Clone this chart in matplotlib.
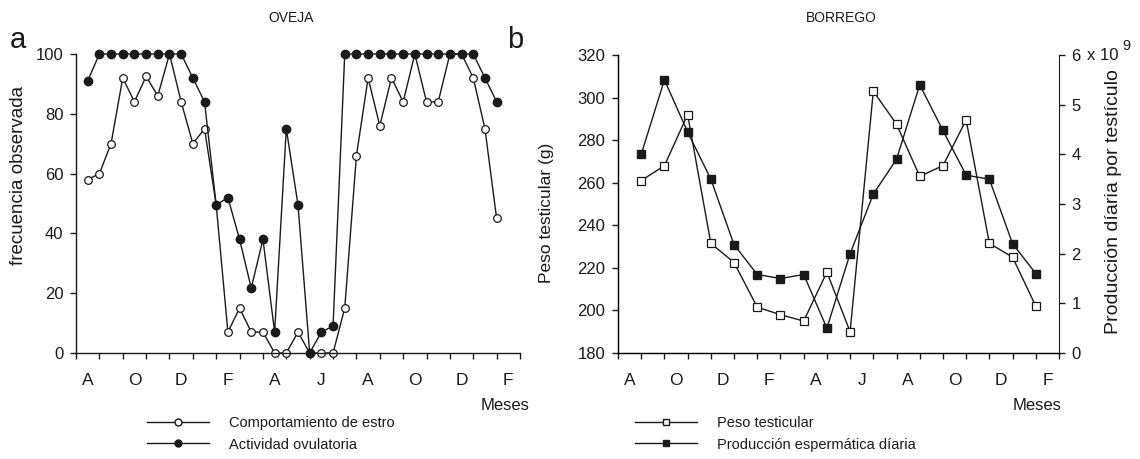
import numpy as np
import matplotlib.pyplot as plt
from matplotlib.lines import Line2D

plt.rcParams['font.family'] = ['Liberation Sans', 'DejaVu Sans']

# --- data (a): OVEJA, sampled every half month
estro = [58, 60, 70, 92, 84, 92.5, 86, 100, 84, 70, 75, 49.5, 7, 15, 7, 7, 0, 0,
         7, 0, 0, 0, 15, 66, 92, 76, 92, 84, 100, 84, 84, 100, 100, 92, 75, 45]
ovul = [91, 100, 100, 100, 100, 100, 100, 100, 100, 92, 84, 49.5, 52, 38, 21.7, 38, 7, 75,
        49.5, 0, 7, 9, 100, 100, 100, 100, 100, 100, 100, 100, 100, 100, 100, 100, 92, 84]

# --- data (b): BORREGO, monthly
peso = [261, 268, 292, 231.5, 222.5, 201.5, 198, 195, 218, 190, 303, 287.5, 263, 268,
        289.5, 231.5, 225, 202]
esperm = [4.0, 5.5, 4.45, 3.5, 2.18, 1.58, 1.5, 1.58, 0.5, 2.0, 3.2, 3.9, 5.4, 4.48,
          3.58, 3.5, 2.2, 1.6]

mes_labels = ['A', 'O', 'D', 'F', 'A', 'J', 'A', 'O', 'D', 'F']

ink = '#1a1a1a'
W, H = 1140, 459

fig = plt.figure(figsize=(11.4, 4.59), dpi=100)
axa = fig.add_axes([76 / W, 1 - 353 / H, (520 - 76) / W, (353 - 54) / H])
axb = fig.add_axes([618 / W, 1 - 353 / H, (1059 - 618) / W, (353 - 55) / H])


def style_axis(ax):
    ax.set_xlim(0, 19)
    ax.set_xticks(range(20))
    ax.set_xticklabels([])
    ax.set_xticks(np.arange(0.5, 19, 2), minor=True)
    ax.set_xticklabels(mes_labels, minor=True)
    ax.tick_params(axis='x', which='minor', length=0, pad=14.5, labelsize=12.5, colors=ink)
    ax.tick_params(axis='x', which='major', length=4, width=1, direction='out', color=ink)
    ax.tick_params(axis='y', length=4, width=1, direction='out', labelsize=12, colors=ink, pad=5)
    for s in ['top', 'right']:
        ax.spines[s].set_visible(False)
    for s in ['left', 'bottom', 'right']:
        ax.spines[s].set_color(ink)
        ax.spines[s].set_linewidth(1.0)


# ---------- panel a
xa = 0.5 + 0.5 * np.arange(len(estro))
axa.plot(xa, estro, '-o', color=ink, lw=1.0, ms=5.5, mfc='white', mec=ink, mew=0.9, clip_on=False)
axa.plot(xa, ovul, '-o', color=ink, lw=1.0, ms=6, mfc=ink, mec=ink, clip_on=False)
axa.set_ylim(0, 100)
axa.set_yticks(range(0, 101, 20))
style_axis(axa)
fig.text(19 / W, 1 - 175 / H, 'frecuencia observada', rotation=90, ha='center', va='center',
         fontsize=13.5, color=ink)
fig.text(530 / W, 1 - 405 / H, 'Meses', ha='right', va='center', fontsize=12, color=ink)

leg_a = [Line2D([], [], color=ink, lw=1.0, marker='o', ms=5, mfc='white', mec=ink),
         Line2D([], [], color=ink, lw=1.0, marker='o', ms=5, mfc=ink, mec=ink)]
fig.legend(leg_a, ['Comportamiento de estro', 'Actividad ovulatoria'],
           loc='upper left', bbox_to_anchor=(140 / W, 1 - 409 / H), frameon=False,
           fontsize=10.5, handlelength=4.25, handletextpad=1.35, labelspacing=0.5,
           borderpad=0, labelcolor=ink)

# ---------- panel b
xb = 1 + np.arange(len(peso))
axb.plot(xb, peso, '-s', color=ink, lw=1.0, ms=5.5, mfc='white', mec=ink, mew=0.9, clip_on=False, zorder=3)
axb.set_ylim(180, 320)
axb.set_yticks(range(180, 321, 20))
style_axis(axb)
fig.text(547 / W, 1 - 213 / H, 'Peso testicular (g)', rotation=90, ha='center', va='center',
         fontsize=12.5, color=ink)
fig.text(1062 / W, 1 - 405 / H, 'Meses', ha='right', va='center', fontsize=12, color=ink)

axb2 = axb.twinx()
axb2.plot(xb, esperm, '-s', color=ink, lw=1.0, ms=6, mfc=ink, mec=ink, clip_on=False)
axb2.set_ylim(0, 6)
axb2.set_yticks(range(0, 7))
axb2.tick_params(axis='y', length=4, width=1, direction='out', labelsize=12, colors=ink, pad=5)
axb2.spines['top'].set_visible(False)
axb2.spines['right'].set_color(ink)
fig.text(1113 / W, 1 - 202 / H, 'Producción díaria por testículo', rotation=90, ha='center',
         va='center', fontsize=14, color=ink)
fig.text(1087 / W, 1 - 55 / H, 'x 10', fontsize=12, color=ink, va='center')
fig.text(1122 / W, 1 - 46 / H, '9', fontsize=10.5, color=ink, va='center')

leg_b = [Line2D([], [], color=ink, lw=1.0, marker='s', ms=5, mfc='white', mec=ink),
         Line2D([], [], color=ink, lw=1.0, marker='s', ms=5, mfc=ink, mec=ink)]
fig.legend(leg_b, ['Peso testicular', 'Producción espermática díaria'],
           loc='upper left', bbox_to_anchor=(628 / W, 1 - 409 / H), frameon=False,
           fontsize=10.5, handlelength=4.25, handletextpad=1.35, labelspacing=0.5,
           borderpad=0, labelcolor=ink)

# titles and panel letters
fig.text(291 / W, 1 - 18 / H, 'OVEJA', ha='center', va='center', fontsize=10, color=ink)
fig.text(841 / W, 1 - 18 / H, 'BORREGO', ha='center', va='center', fontsize=10, color=ink)
fig.text(10 / W, 1 - 40 / H, 'a', ha='left', va='center', fontsize=21, color=ink)
fig.text(507 / W, 1 - 40 / H, 'b', ha='left', va='center', fontsize=21, color=ink)

fig.savefig('out.png', dpi=100)
